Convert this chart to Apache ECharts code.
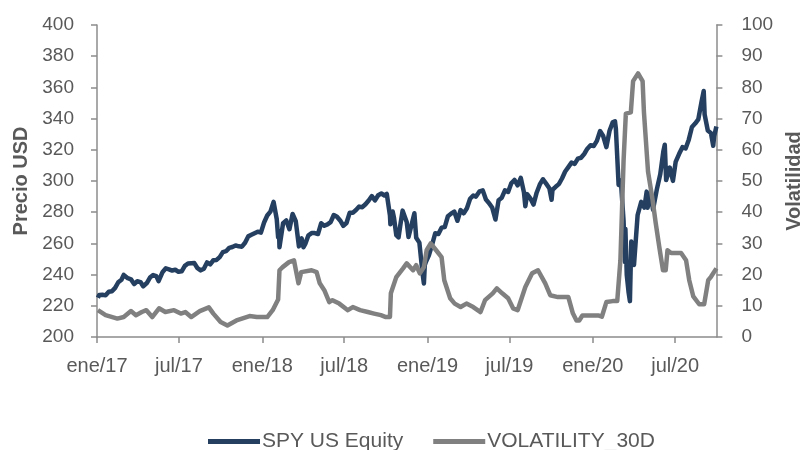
<!DOCTYPE html>
<html><head><meta charset="utf-8">
<script src="https://cdn.jsdelivr.net/npm/echarts@6/dist/echarts.min.js"></script>
<style>html,body{margin:0;padding:0;background:#fff}#c{width:812px;height:450px}</style>
</head><body><div id="c"></div>
<script>
const spyDates = ['2017-01-03','2017-01-06','2017-01-13','2017-01-20','2017-01-27','2017-02-03','2017-02-10','2017-02-17','2017-02-24','2017-03-01','2017-03-10','2017-03-17','2017-03-24','2017-03-31','2017-04-07','2017-04-13','2017-04-21','2017-04-28','2017-05-05','2017-05-12','2017-05-17','2017-05-26','2017-06-02','2017-06-09','2017-06-16','2017-06-23','2017-06-30','2017-07-07','2017-07-14','2017-07-21','2017-07-28','2017-08-04','2017-08-11','2017-08-18','2017-08-25','2017-09-01','2017-09-08','2017-09-15','2017-09-22','2017-09-29','2017-10-06','2017-10-13','2017-10-20','2017-10-27','2017-11-03','2017-11-10','2017-11-17','2017-11-24','2017-12-01','2017-12-08','2017-12-15','2017-12-22','2017-12-29','2018-01-05','2018-01-12','2018-01-19','2018-01-26','2018-02-02','2018-02-05','2018-02-07','2018-02-08','2018-02-16','2018-02-23','2018-03-02','2018-03-09','2018-03-16','2018-03-23','2018-03-29','2018-04-02','2018-04-06','2018-04-13','2018-04-20','2018-04-27','2018-05-04','2018-05-11','2018-05-18','2018-05-25','2018-06-01','2018-06-08','2018-06-15','2018-06-22','2018-06-29','2018-07-06','2018-07-13','2018-07-20','2018-07-27','2018-08-03','2018-08-10','2018-08-17','2018-08-24','2018-08-31','2018-09-07','2018-09-14','2018-09-21','2018-09-28','2018-10-03','2018-10-10','2018-10-11','2018-10-16','2018-10-19','2018-10-24','2018-10-29','2018-11-02','2018-11-07','2018-11-16','2018-11-20','2018-11-23','2018-11-30','2018-12-03','2018-12-07','2018-12-14','2018-12-21','2018-12-24','2018-12-26','2018-12-28','2019-01-04','2019-01-11','2019-01-18','2019-01-25','2019-02-01','2019-02-08','2019-02-15','2019-02-22','2019-03-01','2019-03-08','2019-03-15','2019-03-22','2019-03-29','2019-04-05','2019-04-12','2019-04-18','2019-04-26','2019-05-03','2019-05-10','2019-05-17','2019-05-24','2019-05-31','2019-06-07','2019-06-14','2019-06-21','2019-06-28','2019-07-05','2019-07-12','2019-07-19','2019-07-26','2019-08-02','2019-08-05','2019-08-09','2019-08-16','2019-08-23','2019-08-30','2019-09-06','2019-09-13','2019-09-20','2019-09-27','2019-10-02','2019-10-04','2019-10-11','2019-10-18','2019-10-25','2019-11-01','2019-11-08','2019-11-15','2019-11-22','2019-11-29','2019-12-06','2019-12-13','2019-12-20','2019-12-27','2020-01-03','2020-01-10','2020-01-17','2020-01-24','2020-01-31','2020-02-07','2020-02-14','2020-02-19','2020-02-21','2020-02-27','2020-03-03','2020-03-09','2020-03-12','2020-03-13','2020-03-16','2020-03-20','2020-03-23','2020-03-26','2020-04-01','2020-04-09','2020-04-17','2020-04-24','2020-04-29','2020-05-01','2020-05-08','2020-05-13','2020-05-22','2020-05-29','2020-06-05','2020-06-08','2020-06-11','2020-06-19','2020-06-26','2020-07-02','2020-07-10','2020-07-17','2020-07-24','2020-07-31','2020-08-07','2020-08-14','2020-08-21','2020-08-28','2020-09-02','2020-09-04','2020-09-11','2020-09-18','2020-09-23','2020-09-25','2020-09-30'];
const spyValues = [225.2,227.0,227.1,226.7,229.0,229.3,231.5,235.1,236.7,239.8,237.7,237.0,233.9,235.7,235.2,232.5,234.6,238.1,239.7,239.0,235.8,241.7,244.0,243.4,242.6,243.1,241.8,242.1,245.6,247.1,247.3,247.4,244.1,242.7,243.8,247.8,246.6,249.2,249.4,251.2,254.4,255.0,257.1,257.7,258.7,258.1,257.9,260.4,264.5,265.5,266.5,267.5,266.9,273.4,277.9,280.4,286.6,275.5,263.9,268.0,257.6,273.0,274.7,269.1,278.9,274.2,258.1,263.2,257.5,259.7,265.2,266.6,266.6,266.0,272.9,271.3,272.2,273.6,278.2,277.1,274.7,271.3,273.1,279.6,279.7,281.4,283.6,283.2,285.1,287.5,290.3,287.6,290.9,292.0,290.7,291.7,278.0,272.2,280.4,276.3,265.3,263.9,271.9,281.0,273.7,264.1,263.3,275.7,279.3,263.6,260.5,240.7,234.3,246.2,247.8,252.4,259.0,266.5,266.0,270.1,270.5,277.4,279.1,280.4,274.5,281.3,279.3,282.5,288.6,290.7,290.0,293.4,294.0,288.1,285.8,282.8,275.3,287.7,289.3,294.0,293.0,298.5,300.7,297.2,302.0,292.6,283.8,291.6,288.9,284.9,292.5,297.8,301.1,298.3,295.4,288.0,294.4,296.3,298.0,301.6,306.1,308.9,311.8,311.0,314.3,314.9,317.3,320.7,322.9,322.4,325.7,332.0,328.8,321.7,332.2,337.6,338.3,333.5,297.5,300.2,274.2,248.1,269.3,239.9,228.8,223.0,261.2,246.2,278.2,286.6,283.0,293.2,282.8,292.4,281.6,295.4,304.3,319.3,323.2,300.6,308.6,300.1,312.2,317.6,321.7,320.9,326.5,334.6,336.8,339.5,350.6,357.7,342.6,332.4,330.7,322.6,328.7,334.9];

const volDates = ['2017-01-03','2017-01-20','2017-02-15','2017-03-01','2017-03-17','2017-03-28','2017-04-10','2017-04-20','2017-05-03','2017-05-18','2017-06-01','2017-06-20','2017-07-05','2017-07-15','2017-07-28','2017-08-16','2017-09-05','2017-09-15','2017-10-01','2017-10-16','2017-11-05','2017-12-04','2017-12-20','2018-01-12','2018-01-24','2018-02-05','2018-02-08','2018-02-15','2018-03-01','2018-03-12','2018-03-22','2018-03-28','2018-04-20','2018-05-01','2018-05-08','2018-05-18','2018-05-29','2018-06-05','2018-06-20','2018-07-09','2018-07-20','2018-08-05','2018-08-22','2018-09-05','2018-09-20','2018-10-01','2018-10-10','2018-10-12','2018-10-24','2018-11-08','2018-11-16','2018-11-30','2018-12-07','2018-12-15','2018-12-24','2018-12-30','2019-01-08','2019-01-20','2019-02-01','2019-02-07','2019-02-20','2019-03-02','2019-03-15','2019-03-28','2019-04-12','2019-04-28','2019-05-08','2019-05-25','2019-06-03','2019-06-15','2019-06-28','2019-07-09','2019-07-19','2019-08-05','2019-08-20','2019-09-02','2019-09-18','2019-09-29','2019-10-16','2019-11-08','2019-11-18','2019-11-26','2019-12-02','2019-12-09','2020-01-13','2020-01-21','2020-01-31','2020-02-04','2020-02-14','2020-02-24','2020-03-02','2020-03-09','2020-03-14','2020-03-25','2020-03-30','2020-04-10','2020-04-20','2020-04-23','2020-05-02','2020-05-12','2020-05-19','2020-05-27','2020-06-04','2020-06-10','2020-06-14','2020-06-22','2020-07-14','2020-07-25','2020-08-01','2020-08-10','2020-08-23','2020-09-03','2020-09-12','2020-09-18','2020-09-30'];
const volValues = [8.6,7.0,5.9,6.4,8.3,7.0,8.0,8.6,6.4,9.2,8.0,8.6,7.5,8.0,6.4,8.3,9.5,7.5,4.8,3.7,5.3,6.7,6.4,6.4,8.6,12.0,21.4,22.4,24.0,24.6,17.2,20.8,21.4,20.8,17.2,15.0,11.2,11.8,10.7,8.6,9.6,8.6,8.0,7.5,7.0,6.4,6.4,14.0,19.2,22.0,23.6,21.4,23.0,20.4,22.4,27.8,30.0,27.8,25.6,18.2,12.4,10.7,9.6,10.7,9.6,8.0,11.8,14.0,15.6,14.0,12.4,9.2,8.6,16.0,20.4,21.4,17.2,13.4,12.8,12.8,7.6,5.3,5.3,6.9,6.9,6.5,11.2,11.2,11.5,11.5,24.6,56.6,71.6,72.0,82.0,84.5,82.0,72.0,53.0,44.0,36.5,28.7,21.4,21.4,27.8,26.9,26.9,24.6,18.2,13.0,10.5,10.5,18.2,19.3,22.0];

const xTickDates = ['2017-01-01','2017-07-01','2018-01-01','2018-07-01','2019-01-01','2019-07-01','2020-01-01','2020-07-01'];
const xTickLabels = ['ene/17','jul/17','ene/18','jul/18','ene/19','jul/19','ene/20','jul/20'];
const seriesNames = ['SPY US Equity','VOLATILITY_30D'];
const axisNames = ['Precio USD','Volatilidad'];

function ts(s){const p=s.split('-');return Date.UTC(+p[0],+p[1]-1,+p[2]);}
const tickTs = xTickDates.map(ts);
const FONT = "'Liberation Sans',Arial,sans-serif";
const TXT = '#595959', AX = '#8c8c8c';

const chart = echarts.init(document.getElementById('c'), null, {renderer:'canvas'});
chart.setOption({
  animation:false,
  textStyle:{fontFamily:FONT},
  grid:{left:97,right:88,top:25,bottom:113,containLabel:false},
  legend:{
    data:seriesNames, top:426, left:203, icon:'rect', itemWidth:52, itemHeight:5, itemGap:30,
    textStyle:{fontFamily:FONT,fontSize:21,color:TXT,padding:[0,0,0,-3]}
  },
  xAxis:{
    type:'value', min:ts('2017-01-01'), max:ts('2020-09-30'),
    axisLine:{lineStyle:{color:AX,width:1.5}},
    axisTick:{show:true,customValues:tickTs,length:6,lineStyle:{color:AX,width:1.5}},
    axisLabel:{customValues:tickTs,margin:19,fontSize:20,color:TXT,fontFamily:FONT,
      formatter:function(v){const i=tickTs.indexOf(v);return i>=0?xTickLabels[i]:'';}},
    splitLine:{show:false}
  },
  yAxis:[{
    type:'value', min:200, max:400, interval:20, position:'left',
    name:axisNames[0], nameLocation:'middle', nameGap:64, nameRotate:90,
    nameTextStyle:{fontFamily:FONT,fontSize:20,color:TXT,fontWeight:'bold'},
    axisLine:{show:true,lineStyle:{color:AX,width:1.5}},
    axisTick:{show:true,length:6,lineStyle:{color:AX,width:1.5}},
    axisLabel:{margin:23,fontSize:19,color:TXT,fontFamily:FONT},
    splitLine:{show:false}
  },{
    type:'value', min:0, max:100, interval:10, position:'right',
    name:axisNames[1], nameLocation:'middle', nameGap:63, nameRotate:90,
    nameTextStyle:{fontFamily:FONT,fontSize:20,color:TXT,fontWeight:'bold'},
    axisLine:{show:true,lineStyle:{color:AX,width:1.5}},
    axisTick:{show:true,length:6,lineStyle:{color:AX,width:1.5}},
    axisLabel:{margin:25,fontSize:19,color:TXT,fontFamily:FONT},
    splitLine:{show:false}
  }],
  series:[{
    name:seriesNames[0], type:'line', yAxisIndex:0, showSymbol:false, symbol:'none',
    data:spyDates.map((d,i)=>[ts(d),spyValues[i]]),
    lineStyle:{color:'#243F60',width:4.5,join:'round'}, itemStyle:{color:'#243F60'}
  },{
    name:seriesNames[1], type:'line', yAxisIndex:1, showSymbol:false, symbol:'none',
    data:volDates.map((d,i)=>[ts(d),volValues[i]]),
    lineStyle:{color:'#808080',width:4.5,join:'round'}, itemStyle:{color:'#808080'}
  }]
});
</script></body></html>
